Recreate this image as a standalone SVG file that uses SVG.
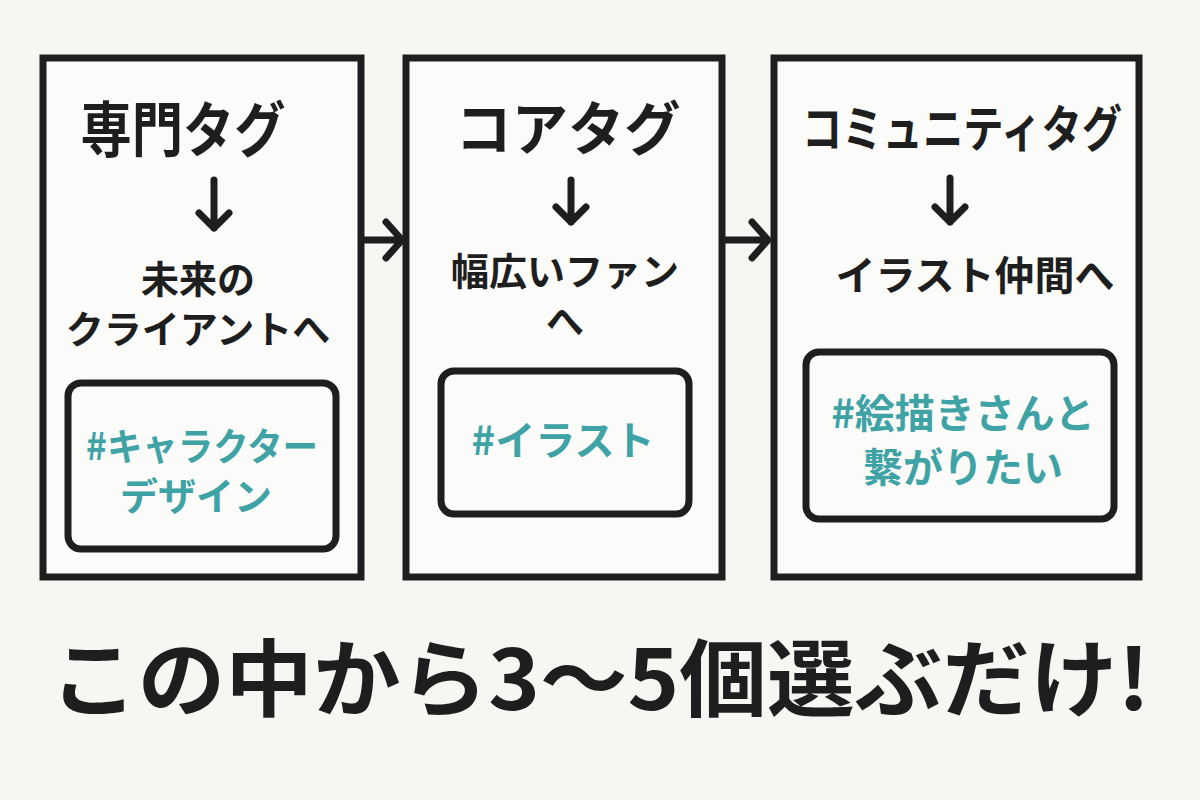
<svg xmlns="http://www.w3.org/2000/svg" width="1200" height="800" viewBox="0 0 1200 800">
<style>
.box{fill:#fbfbf9;stroke:#1e1e1e;stroke-width:7}
.inner{fill:#fbfbf9;stroke:#1e1e1e;stroke-width:7}
.t{font-family:"Noto Sans CJK JP","Noto Sans",sans-serif;fill:#1e1e1e;text-anchor:middle;font-weight:700}
.tag{font-family:"Noto Sans CJK JP","Noto Sans",sans-serif;fill:#3fa3a6;text-anchor:middle;font-weight:700}
.arr{fill:none;stroke:#1e1e1e;stroke-width:7;stroke-linecap:round;stroke-linejoin:round}
</style>
<rect width="1200" height="800" fill="#f7f6f2"/>
<g id="node-senmon">
<rect class="box" x="43" y="58" width="318" height="519"/>
<text class="t" x="183" y="152" font-size="60" textLength="205" lengthAdjust="spacingAndGlyphs">専門タグ</text>
<path class="arr" d="M214 180 V228 M199 213 L214 228 L229 213"/>
<text class="t" x="198" y="293" font-size="38">未来の</text>
<text class="t" x="198" y="343" font-size="38">クライアントへ</text>
<rect class="inner" x="68" y="383" width="268" height="166" rx="13"/>
<text class="tag" x="202" y="460" font-size="38" textLength="232" lengthAdjust="spacingAndGlyphs">#キャラクター</text>
<text class="tag" x="196" y="510" font-size="38">デザイン</text>
</g>
<g id="node-core">
<rect class="box" x="406" y="58" width="316" height="519"/>
<text class="t" x="568" y="150" font-size="58" textLength="225" lengthAdjust="spacingAndGlyphs">コアタグ</text>
<path class="arr" d="M571 180 V222 M556 207 L571 222 L586 207"/>
<text class="t" x="565" y="285" font-size="38">幅広いファン</text>
<text class="t" x="565" y="335" font-size="38">へ</text>
<rect class="inner" x="441" y="371" width="248" height="143" rx="13"/>
<text class="tag" x="563" y="455" font-size="40">#イラスト</text>
</g>
<g id="node-community">
<rect class="box" x="774" y="58" width="365" height="519"/>
<text class="t" x="962" y="147" font-size="50" textLength="320" lengthAdjust="spacingAndGlyphs">コミュニティタグ</text>
<path class="arr" d="M950 178 V222 M935 207 L950 222 L965 207"/>
<text class="t" x="975" y="290" font-size="40">イラスト仲間へ</text>
<rect class="inner" x="806" y="352" width="308" height="167" rx="13"/>
<text class="tag" x="963" y="428" font-size="40">#絵描きさんと</text>
<text class="tag" x="963" y="482" font-size="40">繋がりたい</text>
</g>
<g id="connectors">
<path class="arr" d="M364 240 H400 M386 222 L402 240 L386 258"/>
<path class="arr" d="M726 240 H766 M752 222 L768 240 L752 258"/>
</g>
<g id="footer">
<text class="t" x="600" y="710" font-size="84" textLength="1100" lengthAdjust="spacingAndGlyphs">この中から3～5個選ぶだけ!</text>
</g>
</svg>
